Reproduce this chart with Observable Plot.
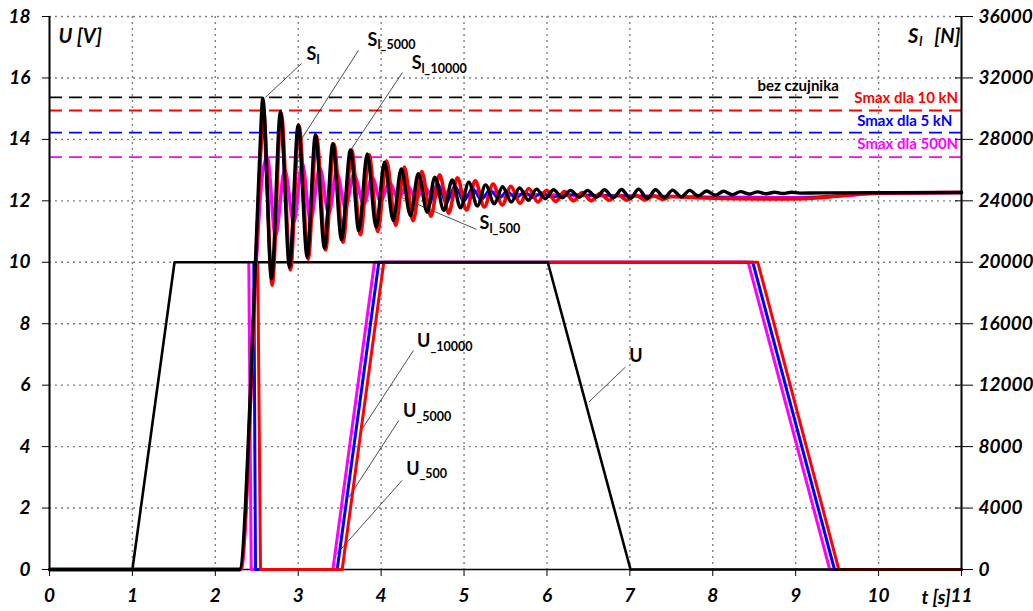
<!DOCTYPE html>
<html><head><meta charset="utf-8">
<script src="https://cdn.jsdelivr.net/npm/d3@7"></script>
<script src="https://cdn.jsdelivr.net/npm/@observablehq/plot@0.6"></script>
<style>html,body{margin:0;padding:0;background:#fff;}</style>
</head><body><div id="chart"></div>
<script>
// ---- tick labels ----
const tTicks = [0,1,2,3,4,5,6,7,8,9,10,11];
const uTicks = [0,2,4,6,8,10,12,14,16,18];          // U [V]
const sTicks = [0,4000,8000,12000,16000,20000,24000,28000,32000,36000]; // S_l [N]

// ---- voltage series [t (s), U (V)] ----
const uMain  = [[0,0],[1,0],[1.508,10],[6.01,10],[7.008,0],[11,0]];
const u500   = [[2.404,10],[2.433,0],[3.418,0],[3.92,10],[8.427,10],[9.411,0],[11,0]];
const u5000  = [[2.464,10],[2.485,0],[3.47,0],[3.972,10],[8.483,10],[9.468,0],[11,0]];
const u10000 = [[2.512,10],[2.545,0],[3.53,0],[4.032,10],[8.543,10],[9.52,0],[11,0]];

// ---- force series [t (s), S (N)] : extrema ----
const sL = [[0,0],[2.29,0],[2.484,20000],[2.537,27160],[2.573,30680],
 [2.678,18920],[2.786,29820],[2.895,19680],[3.0,28960],[3.108,20340],[3.208,28300],[3.317,20920],
 [3.417,27720],[3.522,21480],[3.63,27320],[3.731,22060],[3.832,27060],[3.94,22280],[4.04,26520],
 [4.145,22720],[4.242,26080],[4.354,23040],[4.447,25760],[4.556,23260],[4.647,25540],[4.756,23380],
 [4.857,25360],[4.957,23540],[5.057,25220],[5.16,23660],[5.26,25040],[5.365,23800],[5.465,24920],
 [5.57,23920],[5.67,24840],[5.775,24040],[5.875,24760],[5.98,24140],[6.08,24720],[6.185,24200],
 [6.285,24680],[6.39,24240],[6.49,24680],[6.595,24240],[6.695,24720],[6.8,24200],[6.9,24740],
 [7.005,24160],[7.105,24760],[7.21,24160],[7.31,24720],[7.415,24200],[7.515,24700],[7.62,24260],
 [7.72,24680],[7.825,24320],[7.925,24640],[8.03,24360],[8.13,24620],[8.235,24400],[8.335,24600],
 [8.44,24440],[8.54,24580],[8.645,24460],[8.745,24560],[8.85,24480],[8.95,24560],[9.05,24500],
 [9.3,24520],[11,24540]];
const sL10000 = [[0,0],[2.30,0],[2.49,20000],[2.545,27000],[2.58,29880],
 [2.685,18500],[2.795,29700],[2.905,19500],[3.01,28900],[3.12,20200],[3.22,28200],[3.33,20800],
 [3.43,27700],[3.54,21300],[3.645,27300],[3.75,21800],[3.855,27000],[3.96,22000],[4.065,26600],
 [4.175,22400],[4.28,26200],[4.385,22700],[4.49,25900],[4.6,23000],[4.705,25700],[4.815,23200],
 [4.92,25500],[5.03,23400],[5.135,25300],[5.245,23600],[5.35,25100],[5.46,23740],[5.565,24940],
 [5.675,23840],[5.78,24800],[5.89,23920],[5.995,24680],[6.105,23960],[6.21,24600],[6.32,24000],
 [6.425,24540],[6.535,24000],[6.64,24480],[6.75,24040],[6.855,24400],[6.965,24040],[7.07,24360],
 [7.18,24060],[7.285,24320],[7.4,24100],[7.5,24280],[7.8,24200],[8.3,24140],[8.9,24120],
 [9.3,24200],[9.6,24360],[9.9,24500],[11,24540]];
const sL5000 = [[0,0],[2.30,0],[2.49,20000],[2.545,26800],[2.575,28440],
 [2.68,19400],[2.787,28400],[2.895,20900],[3.0,28000],[3.105,21300],[3.21,27600],[3.315,21960],
 [3.42,27200],[3.525,22300],[3.63,26800],[3.735,22600],[3.84,26400],[3.945,22900],[4.05,26000],
 [4.155,23200],[4.26,25700],[4.365,23440],[4.47,25440],[4.575,23640],[4.68,25200],[4.785,23800],
 [4.89,25000],[4.995,23940],[5.1,24840],[5.205,24040],[5.31,24740],[5.415,24120],[5.52,24660],
 [5.625,24160],[5.73,24600],[5.835,24200],[5.94,24540],[6.045,24240],[6.3,24400],[7.0,24320],
 [7.8,24240],[8.5,24180],[9.0,24180],[9.5,24340],[9.9,24500],[11,24540]];
const sL500 = [[0,0],[2.31,0],[2.5,20600],[2.565,25600],[2.626,26840],
 [2.726,21700],[2.837,26000],[2.947,22600],[3.048,26440],[3.148,22720],[3.26,26160],[3.369,23160],
 [3.462,25860],[3.57,23580],[3.67,25720],[3.791,23800],[3.892,25540],[3.992,24020],[4.105,25200],
 [4.205,24100],[4.314,25000],[4.42,24160],[4.525,24860],[4.63,24200],[4.735,24760],[4.84,24240],
 [4.945,24680],[5.05,24260],[5.155,24620],[5.26,24280],[5.365,24560],[5.47,24300],[5.6,24420],
 [6.0,24380],[7.0,24320],[8.0,24240],[9.0,24200],[9.6,24340],[10,24500],[11,24540]];

// ---- reference (Smax) levels [N] ----
const refLevels = [30730, 29880, 28440, 26840];
const refEnds   = [9.52, 11, 11, 11];
const refColors = ["#000000", "#ff0000", "#0000ff", "#ff00ff"];
const refNames  = ["bez czujnika", "Smax dla 10 kN", "Smax dla 5 kN", "Smax dla 500N"];
const refLabelX = [9.52, 10.96, 10.89, 10.96];
const refLabelY = [15.72, 15.33, 14.58, 13.83];

// ---- curve labels and leader lines (t, U-scale) ----
const labelMain = ["S", "S", "S", "S", "U", "U", "U", "U"];
const labelSub  = ["l", "l_5000", "l_10000", "l_500", "_10000", "_5000", "_500", ""];
const labelX    = [3.22, 3.956, 4.487, 5.307, 4.595, 4.426, 4.463, 7.153];
const labelY    = [16.76, 17.22, 16.47, 11.26, 7.42, 5.14, 3.26, 6.93];
const leaders = [
  [3.04,16.47, 2.605,15.37], [3.727,16.9, 3.027,13.96], [4.258,16.18, 3.63,13.64],
  [5.15,11.07, 3.992,12.40], [4.39,7.13, 3.772,4.58], [4.213,4.85, 3.61,2.35],
  [4.254,2.9, 3.429,0.4], [6.947,6.59, 6.505,5.45]
];

const N_PER_V = sTicks[1] / uTicks[1];
const T = d => d[0], V = d => d[1], SV = d => d[1] / N_PER_V;
const FONT = "Lato";
const axisFont = {fontSize: 19, fontWeight: "bold", fontStyle: "italic", fontFamily: FONT};
const gridStyle = {stroke: "#808080", strokeOpacity: 1, strokeWidth: 1.4, strokeDasharray: "2,4"};
const idx = labelMain.map((_, i) => i);

const chart = Plot.plot({
  width: 1033, height: 611,
  marginTop: 16, marginRight: 72, marginBottom: 42, marginLeft: 49,
  x: {domain: [0, 11]},
  y: {domain: [0, 18]},
  style: {fontFamily: FONT, background: "#fff", overflow: "visible", color: "#000"},
  marks: [
    Plot.gridX({ticks: tTicks.slice(1, -1), ...gridStyle}),
    Plot.gridY({ticks: uTicks.slice(1), ...gridStyle}),
    Plot.ruleY([0], {stroke: "#000", strokeWidth: 1.5}),
    ...refLevels.map((lv, i) => Plot.ruleY([lv], {y: d => d / N_PER_V, x1: () => 0, x2: () => refEnds[i],
        stroke: refColors[i], strokeWidth: 1.8, strokeDasharray: "13,7"})),
    ...refNames.map((nm, i) => Plot.text([nm], {x: () => refLabelX[i], y: () => refLabelY[i], text: d => d,
        textAnchor: "end", fill: refColors[i], fontSize: 15, fontWeight: "bold", fontFamily: FONT})),
    Plot.link(leaders, {x1: d => d[0], y1: d => d[1], x2: d => d[2], y2: d => d[3], stroke: "#222", strokeWidth: 0.8}),
    Plot.line(u500,   {x: T, y: V, stroke: "#ff00ff", strokeWidth: 3}),
    Plot.line(u5000,  {x: T, y: V, stroke: "#0000ff", strokeWidth: 3}),
    Plot.line(u10000, {x: T, y: V, stroke: "#ff0000", strokeWidth: 3}),
    Plot.line(uMain,  {x: T, y: V, stroke: "#000", strokeWidth: 2.6}),
    Plot.line(sL500,   {x: T, y: SV, curve: "monotone-x", stroke: "#ff00ff", strokeWidth: 3.5}),
    Plot.line(sL5000,  {x: T, y: SV, curve: "monotone-x", stroke: "#0000ff", strokeWidth: 2.4}),
    Plot.line(sL10000, {x: T, y: SV, curve: "monotone-x", stroke: "#ff0000", strokeWidth: 3.6}),
    Plot.line(sL,      {x: T, y: SV, curve: "monotone-x", stroke: "#000", strokeWidth: 3.4}),
    Plot.ruleX([0, 11], {stroke: "#000", strokeWidth: 2}),
    // curve labels
    Plot.text(idx, {x: i => labelX[i], y: i => labelY[i], text: i => labelMain[i], textAnchor: "end",
        fontSize: 18, fontWeight: "bold", fontFamily: FONT, fill: "#000"}),
    Plot.text(idx, {x: i => labelX[i], y: i => labelY[i], text: i => labelSub[i], textAnchor: "start",
        dy: 5, fontSize: 12.5, fontWeight: "bold", fontFamily: FONT, fill: "#000"}),
    // axis titles
    Plot.text(["U [V]"], {x: () => 0.109, y: () => 17.35, text: d => d, textAnchor: "start", ...axisFont, fontSize: 20}),
    Plot.text(["S"], {x: () => 10.48, y: () => 17.35, text: d => d, textAnchor: "end", ...axisFont, fontSize: 20}),
    Plot.text(["l"], {x: () => 10.49, y: () => 17.35, text: d => d, textAnchor: "start", dy: 5, ...axisFont, fontSize: 13}),
    Plot.text(["[N]"], {x: () => 10.988, y: () => 17.35, text: d => d, textAnchor: "end", ...axisFont, fontSize: 20}),
    Plot.text(["t [s]"], {x: () => 10.87, y: () => 0, text: d => d, textAnchor: "end", dy: 28, ...axisFont}),
    // axes
    Plot.axisY({ticks: uTicks, tickSize: 7, tickPadding: 12, label: null, tickFormat: d => String(d), ...axisFont}),
    Plot.axisY({anchor: "right", ticks: uTicks, tickSize: 18, dx: -7, tickFormat: () => "", label: null}),
    Plot.axisY({anchor: "right", ticks: uTicks, tickSize: 0, tickPadding: 17, label: null,
        tickFormat: d => String(sTicks[uTicks.indexOf(d)]), textAnchor: "start", ...axisFont}),
    Plot.axisX({ticks: tTicks, tickSize: 7, tickPadding: 12, label: null, tickFormat: d => String(d), ...axisFont})
  ]
});
document.getElementById("chart").appendChild(chart);
</script></body></html>
